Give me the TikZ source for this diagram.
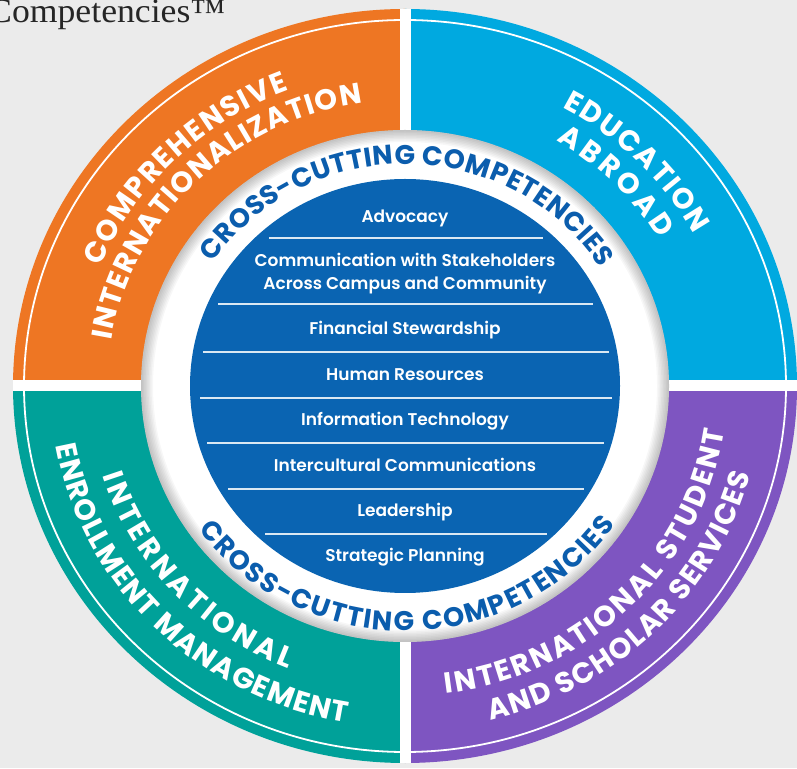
\documentclass[tikz,border=0pt]{standalone}
\usepackage{fontspec}
\usetikzlibrary{decorations.text}
\setmainfont{Poppins}
\newfontfamily\labfont{Poppins}[UprightFont={* Bold}]
\newfontfamily\itemfont{Poppins}[UprightFont={* SemiBold}]
\newfontfamily\seriffont{Liberation Serif}[FakeStretch=1.05]
\newcommand\ringsize{\labfont\fontsize{29}{29}\selectfont}
\newcommand\ccsize{\labfont\fontsize{27}{27}\selectfont}
\definecolor{bg}{HTML}{EBEBEB}
\definecolor{corange}{HTML}{EE7623}
\definecolor{cblue}{HTML}{00A9E0}
\definecolor{cteal}{HTML}{00A199}
\definecolor{cpurple}{HTML}{7E55C1}
\definecolor{cdark}{HTML}{0A64B2}
\definecolor{ctext}{HTML}{0B5DAD}
\tikzset{
  ringtext/.style={decorate, decoration={text along path, text align=fit to path, text color=white, text={|\ringsize|#1}}},
  cctext/.style={decorate, decoration={text along path, text align=fit to path, text color=ctext, text={|\ccsize|#1}}},
  item/.style={anchor=base, inner sep=0pt, text=white, font=\itemfont\fontsize{17}{19}\selectfont},
  sepline/.style={draw=white!85!cdark, line width=1.3pt},
}
\begin{document}
\begin{tikzpicture}[x=1pt,y=1pt]
\fill[bg] (0,0) rectangle (797,768);
\useasboundingbox (0,0) rectangle (797,768);
\node[anchor=base west, inner sep=0pt, font=\seriffont\fontsize{34}{34}\selectfont, text=black!85] (title) at (-12,745) {Competencies™};
\begin{scope}[shift={(405,382)}]
  \fill[cblue] (0,0) -- (392,0) arc[start angle=0, end angle=90, x radius=392, y radius=377] -- cycle;
  \fill[corange] (0,0) -- (0,377) arc[start angle=90, end angle=180, x radius=392, y radius=377] -- cycle;
  \fill[cteal] (0,0) -- (-392,0) arc[start angle=180, end angle=270, x radius=392, y radius=377] -- cycle;
  \fill[cpurple] (0,0) -- (0,-377) arc[start angle=270, end angle=360, x radius=392, y radius=377] -- cycle;
  \draw[white, line width=1.8pt] (0,0) ellipse[x radius=381, y radius=366];
  \draw[white, line width=11pt] (-392,0) -- (392,0);
  \draw[white, line width=11pt] (0,-377) -- (0,377);
  \fill[white] (0,0) ellipse[x radius=264, y radius=256];
  \begin{scope}
    \clip (0,0) ellipse[x radius=264, y radius=256];
    \foreach \w in {3,6,...,24}
      \draw[black, opacity=0.03, line width=\w pt] (0,0) ellipse[x radius=264, y radius=256];
  \end{scope}
  \fill[cdark] (0,0) ellipse[x radius=215, y radius=207];
  % cross-cutting texts
  \path[cctext={CROSS-CUTTING COMPETENCIES}] ({1.04*222*cos(146.2)},{222*sin(146.2)}) arc[start angle=146.2, end angle=32.2, x radius=230.9, y radius=222];
  \path[cctext={CROSS-CUTTING COMPETENCIES}] ({1.04*245*cos(215.8)},{245*sin(215.8)}) arc[start angle=215.8, end angle=325.5, x radius=254.8, y radius=245];
  % ring labels
  \path[ringtext={COMPREHENSIVE}] ({1.04*316*cos(157.8)},{316*sin(157.8)}) arc[start angle=157.8, end angle=110.7, x radius=328.6, y radius=316];
  \path[ringtext={INTERNATIONALIZATION}] ({1.04*286*cos(170.8)},{286*sin(170.8)}) arc[start angle=170.8, end angle=98.2, x radius=297.4, y radius=286];
  \path[ringtext={EDUCATION}] ({1.04*317*cos(61.5)},{317*sin(61.5)}) arc[start angle=61.5, end angle=28.7, x radius=329.7, y radius=317];
  \path[ringtext={ABROAD}] ({1.04*285*cos(59.3)},{285*sin(59.3)}) arc[start angle=59.3, end angle=31.0, x radius=296.4, y radius=285];
  \path[ringtext={INTERNATIONAL}] ({1.04*304*cos(197.2)},{304*sin(197.2)}) arc[start angle=197.2, end angle=248.3, x radius=316.2, y radius=304];
  \path[ringtext={ENROLLMENT MANAGEMENT}] ({1.04*341*cos(190.1)},{341*sin(190.1)}) arc[start angle=190.1, end angle=260.5, x radius=354.6, y radius=341];
  \path[ringtext={INTERNATIONAL STUDENT}] ({1.04*310*cos(-82.7)},{310*sin(-82.7)}) arc[start angle=-82.7, end angle=-8.3, x radius=322.4, y radius=310];
  \path[ringtext={AND SCHOLAR SERVICES}] ({1.04*344*cos(-76.2)},{344*sin(-76.2)}) arc[start angle=-76.2, end angle=-14.9, x radius=357.8, y radius=344];
\end{scope}
% separator lines
\draw[sepline] (269,530) -- (543,530);
\draw[sepline] (218,464) -- (593,464);
\draw[sepline] (203,416) -- (609,416);
\draw[sepline] (200,370) -- (612,370);
\draw[sepline] (207,325) -- (604,325);
\draw[sepline] (228,279) -- (584,279);
\draw[sepline] (265,234) -- (547,234);
% items
\node[item] (advocacy) at (405,545.5) {Advocacy};
\node[item] (comm1) at (405,501) {Communication with Stakeholders};
\node[item] (comm2) at (405,478) {Across Campus and Community};
\node[item] (financial) at (405,433) {Financial Stewardship};
\node[item] (human) at (405,387) {Human Resources};
\node[item] (info) at (405,342) {Information Technology};
\node[item] (intercult) at (405,296) {Intercultural Communications};
\node[item] (leader) at (405,251) {Leadership};
\node[item] (strategic) at (405,206) {Strategic Planning};
\end{tikzpicture}
\end{document}
